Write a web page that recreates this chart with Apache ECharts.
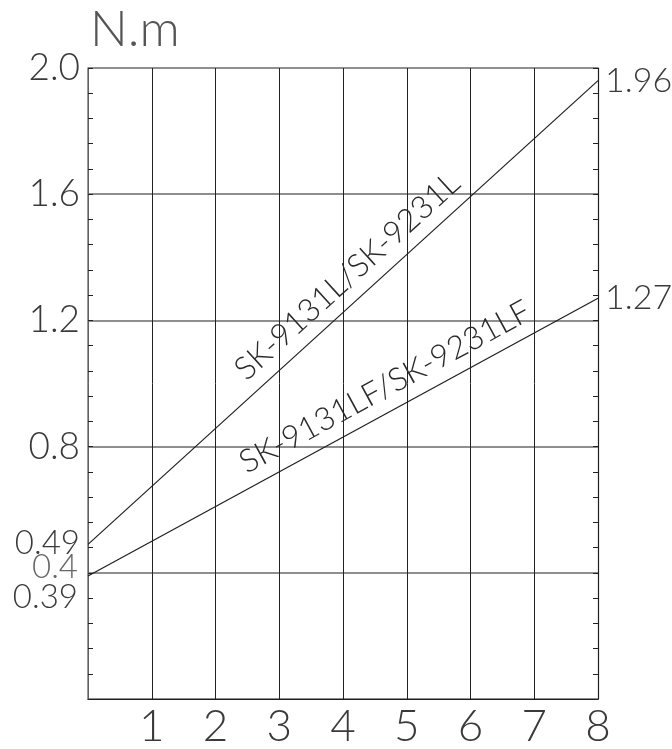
<!DOCTYPE html>
<html><head><meta charset="utf-8">
<script src="https://cdn.jsdelivr.net/npm/echarts@6/dist/echarts.min.js"></script>
<style>html,body{margin:0;padding:0;background:#fff}#c{width:672px;height:749px}</style>
</head><body><div id="c"></div>
<script>
const unitLabel = 'N.m';
const xValues = [0, 8];
const torqueL = [0.49, 1.96];
const torqueLF = [0.39, 1.27];
const nameL = 'SK-9131L/SK-9231L';
const nameLF = 'SK-9131LF/SK-9231LF';
const xTickLabels = ['1','2','3','4','5','6','7','8'];
const yTickLabels = ['0.8','1.2','1.6','2.0'];
const startLabelL = '0.49';
const startLabelsLF = ['0.4','0.39'];

const FONT = 'Lato';
const TXT = '#3a3a3a';
const chart = echarts.init(document.getElementById('c'), null, {renderer:'canvas'});

function pairs(xs, ys){ return xs.map((x,i)=>[x, ys[i]]); }

const lineStyle = {color:'#1e1e1e', width:1.2};
const endLabel = {show:true, distance:7, fontFamily:FONT, fontWeight:300, fontSize:34, color:TXT,
  formatter: p => p.value[1].toFixed(2)};

const option = {
  animation:false,
  title:{text:unitLabel, left:85, top:0, textStyle:{fontFamily:FONT, fontWeight:300, fontSize:50, color:'#555'}},
  grid:{left:88, right:74, top:68, bottom:42, containLabel:false},
  xAxis:{type:'value', min:0, max:8, interval:1,
    axisLine:{show:true, lineStyle:{color:'#1e1e1e', width:1.2}},
    axisTick:{show:false},
    axisLabel:{margin:6, fontFamily:FONT, fontWeight:300, fontSize:44, color:TXT,
      formatter: v => xTickLabels.includes(String(v)) ? String(v) : ''},
    splitLine:{show:true, lineStyle:{color:'#222', width:1}}
  },
  yAxis:[{type:'value', min:0, max:2.0, interval:0.4,
    axisLine:{show:true, onZero:false, lineStyle:{color:'#777', width:1.5}},
    axisTick:{show:true, inside:true, length:5, lineStyle:{color:'#222'}},
    minorTick:{show:true, splitNumber:5, length:5, lineStyle:{color:'#222'}},
    axisLabel:{margin:8, fontFamily:FONT, fontWeight:300, fontSize:37, color:TXT,
      formatter: v => { const s = v.toFixed(1); return yTickLabels.includes(s) ? s : ''; }},
    splitLine:{show:true, lineStyle:{color:'#6a6a6a', width:1.5}}
  },{type:'value', min:0, max:2.0, interval:0.4, position:'right',
    axisLine:{show:true, onZero:false, lineStyle:{color:'#1e1e1e', width:1.2}},
    axisTick:{show:true, inside:true, length:5, lineStyle:{color:'#222'}},
    minorTick:{show:true, splitNumber:5, length:5, lineStyle:{color:'#222'}},
    axisLabel:{show:false}, splitLine:{show:false}
  }],
  series:[{
    name:nameL, type:'line', data:pairs(xValues, torqueL), symbol:'none', lineStyle, endLabel, silent:true,
    markPoint:{symbolSize:0, silent:true, data:[
      {coord:[xValues[0], torqueL[0]], label:{show:true, position:'left', distance:8, offset:[0,-1],
        formatter:startLabelL, fontFamily:FONT, fontWeight:300, fontSize:33, color:TXT}}
    ]}
  },{
    name:nameLF, type:'line', data:pairs(xValues, torqueLF), symbol:'none', lineStyle, endLabel, silent:true,
    markPoint:{symbolSize:0, silent:true, data:[
      {coord:[xValues[0], torqueLF[0]], label:{show:true, position:'left', distance:10, offset:[0,-9],
        formatter:startLabelsLF[0], fontFamily:FONT, fontWeight:300, fontSize:33, color:'#666'}},
      {coord:[xValues[0], torqueLF[0]], label:{show:true, position:'left', distance:10, offset:[0,21],
        formatter:startLabelsLF[1], fontFamily:FONT, fontWeight:300, fontSize:33, color:TXT}}
    ]}
  }]
};
chart.setOption(option);

function lineLabel(xs, ys, text, t, d){
  const p0 = chart.convertToPixel({gridIndex:0}, [xs[0], ys[0]]);
  const p1 = chart.convertToPixel({gridIndex:0}, [xs[1], ys[1]]);
  const a = Math.atan2(p0[1]-p1[1], p1[0]-p0[0]);
  const px = p0[0] + (p1[0]-p0[0])*t, py = p0[1] + (p1[1]-p0[1])*t;
  return {type:'text', x: px - d*Math.sin(a), y: py - d*Math.cos(a), rotation:a, silent:true,
    style:{text, fontFamily:FONT, fontWeight:300, fontSize:32, fill:'#2a2a2a', align:'center', verticalAlign:'middle'}};
}
chart.setOption({graphic:[
  lineLabel(xValues, torqueL, nameL, 0.54, 24),
  lineLabel(xValues, torqueLF, nameLF, 0.605, 24)
]});
</script></body></html>
